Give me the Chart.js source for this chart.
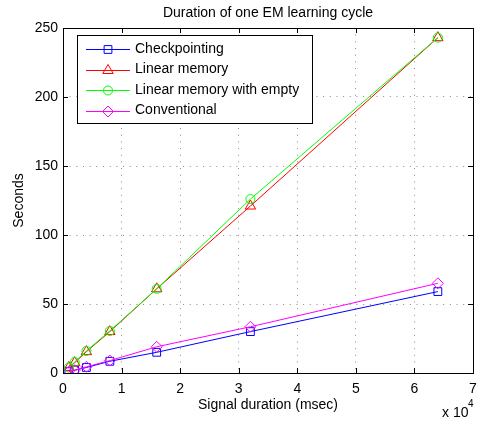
<!DOCTYPE html>
<html>
<head>
<meta charset="utf-8">
<script src="https://cdn.jsdelivr.net/npm/chart.js@4/dist/chart.umd.min.js"></script>
<style>
  html, body { margin: 0; padding: 0; background: #fff; }
  canvas { display: block; }
</style>
</head>
<body>
<canvas id="chart" width="480" height="421"></canvas>
<script>
// signal durations in msec
const durations = [1000, 2000, 4000, 8000, 16000, 32000, 64000];
const checkpointing = [1, 2, 4, 8.5, 15, 30, 59];
const linearMemory = [4, 7.5, 15.5, 30, 61, 121, 243];
const linearMemoryEmpty = [4, 8, 16, 30.5, 61, 126, 243];
const conventional = [1, 2, 4.5, 9, 19, 33.5, 65];

const seriesNames = ['Checkpointing', 'Linear memory', 'Linear memory with empty', 'Conventional'];
const xTicks = [0, 1, 2, 3, 4, 5, 6, 7];
const yTicks = [0, 50, 100, 150, 200, 250];

const FONT = '"Liberation Sans", Arial, Helvetica, sans-serif';

function series(name, values, color, style, radius, order) {
    return {
        label: name,
        data: durations.map((x, i) => ({ x: x, y: values[i] })),
        borderColor: color,
        backgroundColor: 'rgba(0,0,0,0)',
        borderWidth: 1,
        pointStyle: style,
        pointRadius: radius,
        pointBorderWidth: 1,
        pointBorderColor: color,
        pointBackgroundColor: 'rgba(0,0,0,0)',
        tension: 0,
        order: order
    };
}

const datasets = [
    series(seriesNames[0], checkpointing, '#0000ff', 'rect', 5.5, 4),
    series(seriesNames[1], linearMemory, '#ff0000', 'triangle', 6, 3),
    series(seriesNames[2], linearMemoryEmpty, '#00ff00', 'circle', 4.5, 2),
    series(seriesNames[3], conventional, '#ff00ff', 'rectRot', 5.5, 1)
];

// matlab style frame, inward ticks, texts and legend
const matlabFrame = {
    id: 'matlabFrame',
    beforeDraw(chart) {
        const ctx = chart.ctx;
        ctx.save();
        ctx.fillStyle = '#fff';
        ctx.fillRect(0, 0, chart.width, chart.height);
        ctx.restore();
    },
    afterDraw(chart) {
        const ctx = chart.ctx;
        const a = chart.chartArea;
        const xs = chart.scales.x, ys = chart.scales.y;
        ctx.save();
        ctx.strokeStyle = '#000';
        ctx.lineWidth = 1;
        ctx.beginPath();
        xTicks.forEach(t => {
            const px = Math.round(xs.getPixelForValue(t * 10000)) + 0.5;
            ctx.moveTo(px, a.bottom); ctx.lineTo(px, a.bottom - 5);
            ctx.moveTo(px, a.top); ctx.lineTo(px, a.top + 5);
        });
        yTicks.forEach(t => {
            const py = Math.round(ys.getPixelForValue(t)) + 0.5;
            ctx.moveTo(a.left, py); ctx.lineTo(a.left + 5, py);
            ctx.moveTo(a.right, py); ctx.lineTo(a.right - 5, py);
        });
        ctx.stroke();
        ctx.strokeRect(Math.round(a.left) + 0.5, Math.round(a.top) + 0.5,
            Math.round(a.right - a.left), Math.round(a.bottom - a.top));

        // texts
        ctx.fillStyle = '#000';
        ctx.font = '14px ' + FONT;
        ctx.textAlign = 'center';
        ctx.textBaseline = 'middle';
        const cx = (a.left + a.right) / 2;
        ctx.fillText('Duration of one EM learning cycle', cx, 13);
        ctx.fillText('Signal duration (msec)', cx, 405);
        ctx.save();
        ctx.translate(19, (a.top + a.bottom) / 2);
        ctx.rotate(-Math.PI / 2);
        ctx.fillText('Seconds', 0, 0);
        ctx.restore();
        ctx.textAlign = 'left';
        ctx.fillText('x 10', 442, 413);
        ctx.font = '10px ' + FONT;
        ctx.fillText('4', 468, 404);

        // legend
        const lx = 77.5, ly = 35.5, lw = 235, lh = 88;
        ctx.fillStyle = '#fff';
        ctx.fillRect(lx, ly, lw, lh);
        ctx.strokeStyle = '#000';
        ctx.strokeRect(lx, ly, lw, lh);
        ctx.font = '14px ' + FONT;
        chart.data.datasets.forEach((ds, i) => {
            const y = 49 + i * 20.5;
            ctx.strokeStyle = ds.borderColor;
            ctx.lineWidth = 1;
            ctx.beginPath();
            ctx.moveTo(86, Math.round(y) + 0.5);
            ctx.lineTo(130, Math.round(y) + 0.5);
            ctx.stroke();
            ctx.fillStyle = 'rgba(0,0,0,0)';
            Chart.helpers.drawPoint(ctx, {
                pointStyle: ds.pointStyle,
                radius: ds.pointRadius,
                borderWidth: 1,
                rotation: 0
            }, 108, Math.round(y) + 0.5);
            ctx.fillStyle = '#000';
            ctx.fillText(ds.label, 135, y);
        });
        ctx.restore();
    }
};

new Chart(document.getElementById('chart').getContext('2d'), {
    type: 'line',
    data: { datasets: datasets },
    options: {
        responsive: false,
        animation: false,
        devicePixelRatio: 1,
        layout: { padding: { top: 28, right: 6, left: 0, bottom: 0 } },
        plugins: {
            legend: { display: false },
            title: { display: false },
            tooltip: { enabled: false }
        },
        scales: {
            x: {
                type: 'linear',
                min: 0,
                max: 70000,
                afterFit: s => {
                    s.height = 48;
                    s.paddingLeft = 0;
                    s.paddingRight = 0;
                },
                afterBuildTicks: s => { s.ticks = xTicks.map(t => ({ value: t * 10000 })); },
                ticks: {
                    color: '#000',
                    font: { family: FONT, size: 14 },
                    padding: 8,
                    maxRotation: 0,
                    callback: v => String(v / 10000)
                },
                grid: { color: 'rgba(0,0,0,0.45)', drawTicks: false, tickLength: 0 },
                border: { display: false, dash: [1, 5.67] }
            },
            y: {
                min: 0,
                max: 250,
                afterFit: s => {
                    s.width = 63;
                    s.paddingTop = 0;
                    s.paddingBottom = 0;
                },
                afterBuildTicks: s => { s.ticks = yTicks.map(t => ({ value: t })); },
                ticks: {
                    color: '#000',
                    font: { family: FONT, size: 14 },
                    padding: 5
                },
                grid: { color: 'rgba(0,0,0,0.45)', drawTicks: false, tickLength: 0 },
                border: { display: false, dash: [1, 5.67] }
            }
        }
    },
    plugins: [matlabFrame]
});
</script>
</body>
</html>
